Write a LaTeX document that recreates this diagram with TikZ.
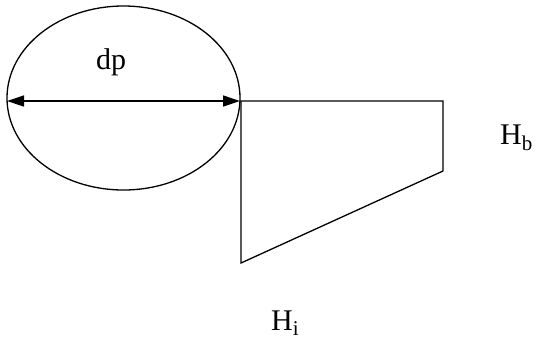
\documentclass[tikz,border=0pt]{standalone}
\usepackage{fontspec}
\setmainfont{Liberation Serif}
\usetikzlibrary{arrows.meta,shapes.geometric}
\tikzset{
  ln/.style={line width=1.3pt},
  dim/.style={ln,{Triangle[length=17pt,width=11pt]}-{Triangle[length=17pt,width=11pt]}},
  lbl/.style={font=\fontsize{30}{32}\selectfont,inner sep=0pt},
}
\begin{document}
\begin{tikzpicture}[x=1pt,y=-1pt]
\useasboundingbox (0,0) rectangle (537,341);
% pipe cross section
\node[ln,draw,ellipse,minimum width=233,minimum height=184,inner sep=0pt] (pipe) at (123.5,98) {};
\coordinate (dl) at (7,101);
\coordinate (dr) at (240,101);
\draw[dim] (dl) -- (dr);
\node[lbl] (dp) at (111,62) {dp};
% pressure distribution
\coordinate (tl) at (241,101);
\coordinate (tr) at (443,101);
\coordinate (br) at (443,171);
\coordinate (bl) at (241,263);
\draw[ln] (tl) -- (tr) -- (br) -- (bl) -- cycle;
\node[lbl,anchor=base west] (hb) at (500,144) {H\textsubscript{b}};
\node[lbl,anchor=base west] (hi) at (271,330) {H\textsubscript{i}};
\end{tikzpicture}
\end{document}
